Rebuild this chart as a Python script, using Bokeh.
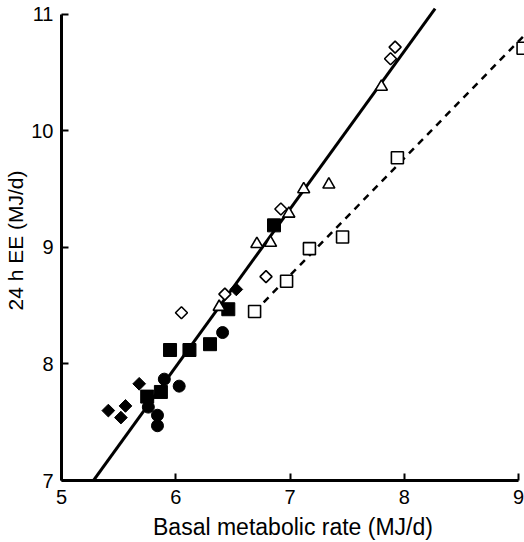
import math
from bokeh.plotting import figure
from bokeh.models import Range1d
from bokeh.embed import file_html
from bokeh.resources import INLINE

# ---- data ----
filled_circle_x = [5.76, 5.84, 5.84, 5.90, 6.03, 6.41]
filled_circle_y = [7.63, 7.56, 7.47, 7.87, 7.81, 8.27]

filled_square_x = [5.75, 5.87, 5.95, 6.12, 6.30, 6.46, 6.86]
filled_square_y = [7.72, 7.76, 8.12, 8.12, 8.17, 8.47, 9.19]

filled_diamond_x = [5.41, 5.52, 5.56, 5.68, 6.53]
filled_diamond_y = [7.60, 7.54, 7.64, 7.83, 8.64]

open_diamond_x = [6.05, 6.43, 6.79, 6.92, 7.88, 7.92]
open_diamond_y = [8.44, 8.60, 8.75, 9.33, 10.62, 10.72]

open_triangle_x = [6.38, 6.71, 6.83, 6.99, 7.12, 7.34, 7.80]
open_triangle_y = [8.49, 9.03, 9.04, 9.29, 9.50, 9.54, 10.38]

open_square_x = [6.69, 6.97, 7.17, 7.46, 7.94, 9.04]
open_square_y = [8.45, 8.71, 8.99, 9.09, 9.77, 10.71]

# regression lines
fit_all_x = [5.28, 8.27]
fit_all_y = [7.00, 11.05]
fit_open_sq_x = [6.69, 9.05]
fit_open_sq_y = [8.45, 10.82]

x_ticks = [5, 6, 7, 8, 9]
y_ticks = [7, 8, 9, 10, 11]

FONT = "Liberation Sans"

p = figure(width=524, height=542,
           x_range=Range1d(5, 9.0525), y_range=Range1d(7, 11.12),
           output_backend="svg", toolbar_location=None,
           min_border_left=61, min_border_right=0,
           min_border_top=0, min_border_bottom=62)

p.outline_line_color = None
p.xgrid.grid_line_color = None
p.ygrid.grid_line_color = None
p.background_fill_color = "white"
p.border_fill_color = "white"

# lines
p.line(fit_all_x, fit_all_y, line_color="black", line_width=3)
p.line(fit_open_sq_x, fit_open_sq_y, line_color="black", line_width=2.5,
       line_dash="7 6")

# markers
p.scatter(filled_circle_x, filled_circle_y, marker="circle", size=12,
          fill_color="black", line_color="black")
p.scatter(filled_square_x, filled_square_y, marker="square", size=13,
          fill_color="black", line_color="black")
p.scatter(filled_diamond_x, filled_diamond_y, marker="square", size=9,
          angle=math.pi / 4, fill_color="black", line_color="black")
p.scatter(open_diamond_x, open_diamond_y, marker="square", size=8.5,
          angle=math.pi / 4, fill_color="white", line_color="black",
          line_width=1.6)
p.scatter(open_triangle_x, open_triangle_y, marker="triangle", size=12,
          fill_color="white", line_color="black", line_width=1.6)
p.scatter(open_square_x, open_square_y, marker="square", size=12,
          fill_color="white", line_color="black", line_width=1.6)

# axes
for ax in (p.xaxis[0], p.yaxis[0]):
    ax.axis_line_width = 3
    ax.axis_line_color = "black"
    ax.major_tick_in = 7
    ax.major_tick_out = 0
    ax.major_tick_line_width = 2
    ax.major_tick_line_color = "black"
    ax.minor_tick_line_color = None
    ax.major_label_text_font = FONT
    ax.major_label_text_font_size = "20px"
    ax.major_label_text_color = "black"
    ax.axis_label_text_font = FONT
    ax.axis_label_text_font_style = "normal"
    ax.axis_label_text_color = "black"

p.xaxis.ticker = x_ticks
p.yaxis.ticker = y_ticks
p.xaxis.bounds = (5, 9)
p.yaxis.bounds = (7, 11)

p.xaxis.axis_label = "Basal metabolic rate (MJ/d)"
p.xaxis.axis_label_text_font_size = "23px"
p.xaxis.major_label_standoff = 9
p.xaxis.axis_label_standoff = 7

p.yaxis.axis_label = "24 h EE (MJ/d)"
p.yaxis.axis_label_text_font_size = "21px"
p.yaxis.major_label_standoff = 8
p.yaxis.axis_label_standoff = 1

open("out.html", "w").write(file_html(p, INLINE))
